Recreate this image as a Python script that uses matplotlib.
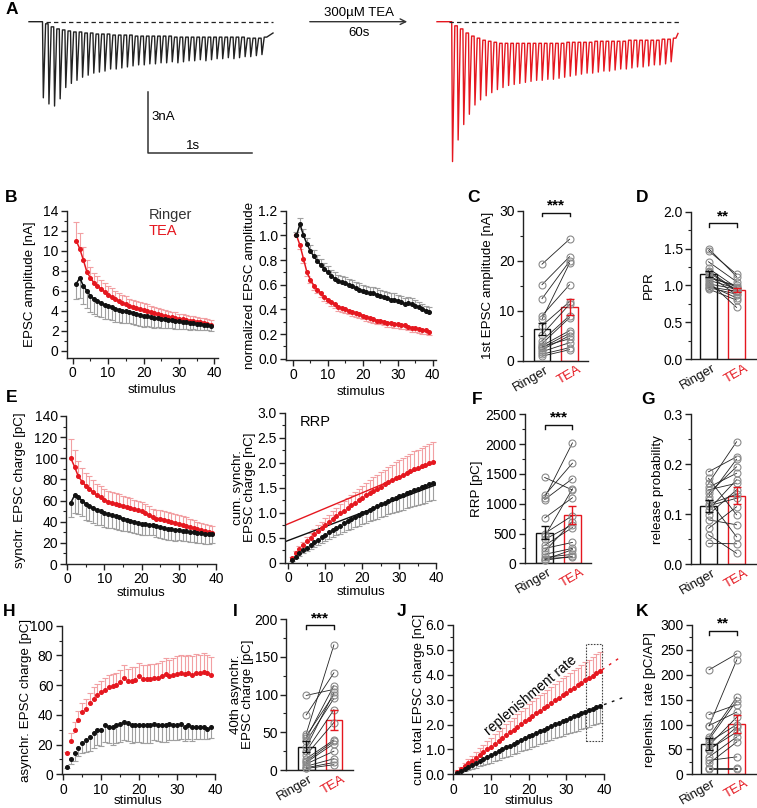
import numpy as np
import matplotlib
matplotlib.use("Agg")
import matplotlib.pyplot as plt
from matplotlib.ticker import MultipleLocator
from matplotlib.patches import Rectangle
import matplotlib.transforms as mtrans

plt.rcParams['font.family'] = ['Liberation Sans', 'DejaVu Sans']
plt.rcParams['font.size'] = 10

W, H = 757, 808
RED = '#e5171f'
RED_ERR = '#f2a0a3'
BLK = '#111111'
GRY_ERR = '#a0a0a0'
PT_GRY = '#8a8a8a'
TICK_FS = 10
LAB_FS = 9.6

# =====================================
# Data
# =====================================

# --- A: example traces, peak depth and recovery level per stimulus (nA)
black_peaks = [3.7, 4.0, 4.1, 3.75, 3.2, 3.0, 2.85, 2.7, 2.6, 2.5, 2.45, 2.4, 2.3, 2.3,
               2.25, 2.2, 2.15, 2.1, 2.1, 2.05, 2.05, 2.0, 2.0, 1.95, 2.0, 1.95, 1.9, 1.9,
               1.85, 1.9, 1.85, 1.8, 1.8, 1.75, 1.8, 1.75, 1.7, 1.7, 1.65, 1.6]
black_recs = [0.1, 0.25, 0.35, 0.4, 0.45, 0.5, 0.5, 0.55, 0.55, 0.6, 0.6, 0.6, 0.65, 0.65,
              0.65, 0.65, 0.7, 0.7, 0.7, 0.7, 0.7, 0.7, 0.7, 0.75, 0.75, 0.75, 0.75, 0.75,
              0.75, 0.75, 0.75, 0.75, 0.75, 0.75, 0.75, 0.75, 0.8, 0.8, 0.8, 0.75]
red_peaks = [6.8, 5.75, 5.0, 4.5, 4.05, 3.8, 3.6, 3.45, 3.3, 3.2, 3.1, 3.05, 3.0, 2.95,
             2.9, 2.85, 2.85, 2.8, 2.8, 2.75, 2.7, 2.65, 2.6, 2.55, 2.5, 2.5, 2.45, 2.4,
             2.4, 2.35, 2.3, 2.3, 2.25, 2.2, 2.2, 2.15, 2.1, 2.1, 2.05, 1.95]
red_recs = [0.2, 0.35, 0.55, 0.7, 0.8, 0.9, 0.95, 1.0, 1.05, 1.05, 1.05, 1.05, 1.05, 1.05,
            1.05, 1.05, 1.05, 1.05, 1.05, 1.05, 1.0, 1.0, 1.0, 1.0, 1.0, 0.95, 0.95, 0.95,
            0.95, 0.95, 0.95, 0.9, 0.9, 0.9, 0.9, 0.9, 0.9, 0.85, 0.85, 0.8]
black_tail = 0.55
red_tail = 0.57

stim = np.arange(1, 40)

# --- B: EPSC amplitude (nA) and normalized amplitude
amp_tea = [11.0, 10.2, 9.1, 7.9, 7.3, 6.8, 6.5, 6.2, 5.9, 5.6, 5.4, 5.2, 5.0, 4.8, 4.7,
           4.5, 4.4, 4.3, 4.2, 4.1, 4.0, 3.9, 3.8, 3.7, 3.6, 3.5, 3.4, 3.35, 3.3, 3.2,
           3.15, 3.1, 3.0, 2.95, 2.9, 2.85, 2.8, 2.7, 2.6]
amp_tea_err = [1.9, 1.6, 1.3, 1.2, 1.1, 1.0, 0.95, 0.9, 0.9, 0.85, 0.85, 0.8, 0.8, 0.75,
               0.75, 0.7, 0.7, 0.7, 0.65, 0.65, 0.65, 0.6, 0.6, 0.6, 0.6, 0.55, 0.55,
               0.55, 0.55, 0.5, 0.5, 0.5, 0.5, 0.5, 0.45, 0.45, 0.45, 0.45, 0.45]
amp_rin = [6.7, 7.3, 6.5, 6.0, 5.5, 5.2, 5.0, 4.8, 4.6, 4.5, 4.4, 4.2, 4.1, 4.0, 3.95,
           3.9, 3.8, 3.7, 3.6, 3.5, 3.45, 3.4, 3.3, 3.25, 3.2, 3.15, 3.1, 3.05, 3.0,
           2.95, 2.9, 2.85, 2.8, 2.75, 2.7, 2.65, 2.6, 2.55, 2.5]
amp_rin_err = [1.5, 2.0, 1.8, 1.7, 1.6, 1.5, 1.5, 1.4, 1.4, 1.3, 1.3, 1.3, 1.2, 1.2, 1.2,
               1.1, 1.1, 1.1, 1.1, 1.1, 1.0, 1.0, 1.0, 0.9, 0.9, 0.9, 0.8, 0.8, 0.8, 0.8,
               0.7, 0.7, 0.7, 0.6, 0.6, 0.6, 0.5, 0.5, 0.5]
norm_rin = [1.0, 1.09, 1.0, 0.93, 0.87, 0.83, 0.79, 0.76, 0.73, 0.70, 0.67, 0.65, 0.63,
            0.62, 0.61, 0.60, 0.59, 0.57, 0.56, 0.55, 0.54, 0.53, 0.53, 0.52, 0.51, 0.50,
            0.49, 0.48, 0.48, 0.47, 0.46, 0.44, 0.45, 0.44, 0.43, 0.42, 0.40, 0.39, 0.38]
norm_rin_err = [0.03, 0.05, 0.05, 0.05, 0.05, 0.05, 0.05, 0.05, 0.05, 0.05, 0.05, 0.05,
                0.05, 0.05, 0.05, 0.05, 0.05, 0.05, 0.05, 0.05, 0.05, 0.05, 0.05, 0.05,
                0.05, 0.05, 0.05, 0.05, 0.05, 0.05, 0.05, 0.05, 0.05, 0.05, 0.05, 0.04,
                0.04, 0.04, 0.04]
norm_tea = [1.0, 0.92, 0.81, 0.70, 0.64, 0.59, 0.56, 0.53, 0.50, 0.48, 0.46, 0.44, 0.42,
            0.41, 0.40, 0.39, 0.38, 0.37, 0.36, 0.35, 0.34, 0.33, 0.32, 0.31, 0.31, 0.30,
            0.29, 0.29, 0.28, 0.28, 0.27, 0.27, 0.26, 0.25, 0.25, 0.24, 0.23, 0.23, 0.22]
norm_tea_err = [0.0, 0.03, 0.03, 0.03, 0.03, 0.03, 0.03, 0.03, 0.03, 0.03, 0.03, 0.03,
                0.03, 0.03, 0.03, 0.03, 0.03, 0.03, 0.03, 0.03, 0.03, 0.03, 0.03, 0.03,
                0.03, 0.03, 0.03, 0.03, 0.03, 0.03, 0.03, 0.03, 0.03, 0.03, 0.03, 0.03,
                0.03, 0.03, 0.03]

# --- E: synchronous charge (pC) and cumulative synchronous charge (nC)
sync_tea = [100, 92, 83, 78, 74, 71, 68, 65, 63, 61, 59, 58, 57, 56, 55, 54, 53, 52, 51,
            50, 48, 46, 44, 43, 43, 42, 41, 40, 39, 38, 37, 36, 35, 34, 33, 32, 31, 30, 29]
sync_tea_err = [18, 16, 14, 13, 12, 12, 11, 11, 11, 10, 10, 10, 10, 10, 9, 9, 9, 9, 9, 9,
                9, 9, 8, 8, 8, 8, 8, 8, 8, 8, 8, 8, 8, 8, 7, 7, 7, 7, 7]
sync_rin = [58, 65, 63, 60, 57, 55, 53, 51, 50, 48, 47, 46, 45, 44, 43, 42, 41, 40, 39,
            38, 38, 37, 37, 36, 35, 34, 33, 33, 32, 32, 31, 31, 30, 30, 29, 29, 28, 28, 28]
sync_rin_err = [14, 17, 16, 15, 15, 14, 14, 14, 13, 13, 13, 12, 12, 12, 12, 11, 11, 11, 11,
                11, 11, 10, 10, 10, 10, 10, 10, 10, 10, 9, 9, 9, 9, 9, 9, 9, 9, 9, 8]
cum_tea = [0.10, 0.19, 0.28, 0.35, 0.43, 0.50, 0.57, 0.63, 0.69, 0.76, 0.81, 0.87, 0.93,
           0.99, 1.04, 1.09, 1.15, 1.20, 1.25, 1.30, 1.35, 1.39, 1.44, 1.48, 1.52, 1.57,
           1.61, 1.65, 1.69, 1.72, 1.76, 1.80, 1.83, 1.87, 1.90, 1.93, 1.96, 1.99, 2.02]
cum_tea_err = [0.02, 0.04, 0.06, 0.07, 0.08, 0.10, 0.11, 0.12, 0.13, 0.14, 0.15, 0.16,
               0.17, 0.18, 0.19, 0.20, 0.21, 0.22, 0.23, 0.24, 0.25, 0.26, 0.27, 0.28,
               0.29, 0.29, 0.30, 0.31, 0.32, 0.33, 0.33, 0.34, 0.35, 0.36, 0.36, 0.37,
               0.38, 0.38, 0.39]
cum_rin = [0.06, 0.12, 0.19, 0.25, 0.30, 0.36, 0.41, 0.46, 0.51, 0.56, 0.61, 0.65, 0.70,
           0.74, 0.79, 0.83, 0.87, 0.91, 0.95, 0.99, 1.02, 1.06, 1.10, 1.13, 1.17, 1.20,
           1.24, 1.27, 1.30, 1.33, 1.36, 1.39, 1.42, 1.45, 1.48, 1.51, 1.54, 1.57, 1.60]
cum_rin_err = [0.02, 0.03, 0.05, 0.06, 0.07, 0.08, 0.09, 0.10, 0.11, 0.12, 0.13, 0.14,
               0.15, 0.16, 0.17, 0.18, 0.19, 0.20, 0.21, 0.21, 0.22, 0.23, 0.24, 0.25,
               0.25, 0.26, 0.27, 0.28, 0.28, 0.29, 0.30, 0.30, 0.31, 0.32, 0.32, 0.33,
               0.34, 0.34, 0.35]
rrp_fit_x = [-0.9, 40]
rrp_fit_tea = [0.75, 2.02]
rrp_fit_rin = [0.42, 1.56]

# --- H: asynchronous charge (pC)
async_tea = [14, 22.5, 30, 36.5, 42, 44, 48, 51, 53.5, 55.5, 57, 58.5, 59.5, 60, 62, 65,
             62.5, 63, 63.5, 66, 64, 64, 64, 64.5, 64.5, 66, 67.5, 66, 66.5, 67.5, 68.5,
             67.5, 68, 67, 68.5, 68, 69, 68, 67]
async_tea_err = [1, 5, 5.5, 6, 6, 7, 7, 7.5, 7.5, 7.5, 8, 8, 8, 8, 8.5, 8.5, 8.5, 9, 9, 9,
                 9.5, 9.5, 10, 10, 10.5, 10.5, 11, 11, 11.5, 12, 12, 12, 12, 12.5, 12.5,
                 12.5, 12.5, 12, 12]
async_rin = [5, 10, 14, 18, 21, 23, 25, 28, 30, 30, 33, 32, 32, 33, 34, 35, 34.5, 33, 33.5,
             33.5, 33, 33, 33, 34, 33.5, 33, 33, 34, 33, 33, 34, 31.5, 33, 31.5, 32, 31.5,
             31.5, 30.5, 31.5]
async_rin_err = [1, 3, 5, 6, 7, 8, 9, 10, 10, 11, 11, 11, 12, 12, 12, 12, 12, 12, 12, 12,
                 12, 12, 12, 11, 11, 11, 11, 11, 10, 10, 10, 9, 9, 9, 8, 8, 8, 7, 7]

# --- J: cumulative total charge (nC)
tot_tea = [0.11, 0.22, 0.33, 0.44, 0.55, 0.66, 0.78, 0.89, 1.00, 1.11, 1.23, 1.34, 1.45,
           1.56, 1.68, 1.79, 1.90, 2.01, 2.13, 2.24, 2.35, 2.45, 2.56, 2.66, 2.76, 2.87,
           2.97, 3.08, 3.18, 3.28, 3.38, 3.48, 3.58, 3.68, 3.78, 3.87, 3.97, 4.07, 4.16]
tot_tea_err = [0.05, 0.08, 0.12, 0.16, 0.20, 0.24, 0.27, 0.30, 0.33, 0.36, 0.39, 0.41,
               0.43, 0.45, 0.47, 0.49, 0.51, 0.53, 0.55, 0.57, 0.58, 0.60, 0.61, 0.62,
               0.63, 0.64, 0.65, 0.66, 0.67, 0.68, 0.69, 0.70, 0.71, 0.72, 0.73, 0.74,
               0.75, 0.75, 0.76]
tot_rin = [0.06, 0.14, 0.22, 0.29, 0.37, 0.45, 0.53, 0.61, 0.69, 0.76, 0.84, 0.92, 1.00,
           1.08, 1.15, 1.23, 1.31, 1.38, 1.45, 1.52, 1.59, 1.66, 1.73, 1.80, 1.87, 1.94,
           2.01, 2.07, 2.14, 2.20, 2.27, 2.33, 2.39, 2.45, 2.52, 2.58, 2.64, 2.69, 2.75]
tot_rin_err = [0.03, 0.06, 0.09, 0.12, 0.15, 0.18, 0.21, 0.24, 0.27, 0.30, 0.32, 0.34,
               0.36, 0.38, 0.40, 0.42, 0.44, 0.46, 0.48, 0.50, 0.51, 0.52, 0.53, 0.54,
               0.55, 0.56, 0.57, 0.58, 0.59, 0.60, 0.61, 0.62, 0.63, 0.64, 0.65, 0.66,
               0.67, 0.68, 0.70]
ext_x = [39.5, 44.3]
ext_tea = [4.2, 4.7]
ext_x_rin = [40.0, 45.0]
ext_rin = [2.8, 3.08]

# --- bar panels: paired cells, mean, SEM
c_rin = [19.3, 15.2, 12.4, 9.0, 8.3, 7.0, 5.2, 4.0, 3.4, 3.0, 2.6, 2.2, 1.8, 1.3, 0.9, 2.8]
c_tea = [24.3, 20.8, 19.9, 15.2, 19.5, 11.8, 11.3, 9.0, 8.6, 6.0, 5.5, 5.0, 3.6, 2.6, 2.2, 4.4]
c_mean = [6.4, 10.7]
c_sem = [1.2, 1.6]

d_rin = [1.50, 1.47, 1.32, 1.23, 1.18, 1.14, 1.10, 1.07, 1.05, 1.02, 1.0, 0.98, 0.97, 0.95, 1.20, 1.12]
d_tea = [1.12, 1.15, 1.05, 0.97, 0.92, 0.87, 1.0, 0.96, 0.70, 0.95, 0.83, 0.92, 0.88, 0.80, 0.93, 0.98]
d_mean = [1.16, 0.94]
d_sem = [0.04, 0.025]

f_rin = [1440, 1140, 1100, 1070, 760, 500, 450, 400, 300, 250, 150, 100, 80, 60, 50, 200]
f_tea = [1230, 1680, 2020, 1420, 1100, 800, 1250, 650, 600, 350, 250, 150, 100, 230, 120, 700]
f_mean = [510, 817]
f_sem = [110, 150]

g_rin = [0.185, 0.172, 0.162, 0.154, 0.149, 0.142, 0.129, 0.117, 0.109, 0.099, 0.089,
         0.072, 0.059, 0.042, 0.135, 0.12]
g_tea = [0.215, 0.099, 0.245, 0.182, 0.162, 0.195, 0.055, 0.132, 0.169, 0.149, 0.079,
         0.115, 0.022, 0.041, 0.21, 0.14]
g_mean = [0.116, 0.137]
g_sem = [0.012, 0.017]

i_rin = [99, 73, 48, 45, 42, 38, 30, 25, 20, 15, 12, 10, 8, 5, 3, 2]
i_tea = [107, 129, 166, 100, 112, 95, 103, 80, 63, 40, 38, 35, 25, 15, 10, 7]
i_mean = [31, 66]
i_sem = [7, 13]

k_rin = [210, 120, 98, 97, 75, 70, 65, 58, 50, 35, 28, 22, 12, 10, 48]
k_tea = [242, 140, 125, 230, 155, 148, 100, 115, 85, 75, 35, 65, 12, 10, 95]
k_mean = [60, 101]
k_sem = [12, 19]


# =====================================
# Helpers
# =====================================

fig = plt.figure(figsize=(W / 100, H / 100), dpi=100)


def box(l, t, r, b):
    return fig.add_axes([l / W, 1 - b / H, (r - l) / W, (b - t) / H])


def style(ax, xlim, ylim, ymaj, ymin, xmaj=None, xmin=None):
    for s in ['top', 'right']:
        ax.spines[s].set_visible(False)
    for s in ['left', 'bottom']:
        ax.spines[s].set_linewidth(1.0)
        ax.spines[s].set_color('#222222')
    ax.set_xlim(*xlim)
    ax.set_ylim(*ylim)
    ax.yaxis.set_major_locator(MultipleLocator(ymaj))
    ax.yaxis.set_minor_locator(MultipleLocator(ymin))
    if xmaj:
        ax.xaxis.set_major_locator(MultipleLocator(xmaj))
        ax.xaxis.set_minor_locator(MultipleLocator(xmin))
    ax.tick_params(direction='out', length=4, width=1, labelsize=TICK_FS, pad=2,
                   color='#222222')
    ax.tick_params(which='minor', direction='out', length=2, width=0.8, color='#222222')


def ylab(ax, text, dist_px):
    ax.set_ylabel(text, fontsize=LAB_FS, va='center', ha='center', linespacing=1.05)
    w = ax.get_position().width * W
    ax.yaxis.set_label_coords(-dist_px / w, 0.5)


def xlab(ax, text, dist_px, xc=0.5):
    ax.set_xlabel(text, fontsize=LAB_FS, va='center')
    h = ax.get_position().height * H
    ax.xaxis.set_label_coords(xc, -dist_px / h)


def err_one(ax, y, e, up, color):
    y = np.asarray(y, float)
    e = np.asarray(e, float)
    tip = y + e if up else y - e
    ax.vlines(stim, y, tip, colors=color, lw=0.8, zorder=1)
    ax.plot(stim, tip, ls='none', marker='_', ms=4, mew=0.8, color=color, zorder=1)


def series(ax, y, color):
    ax.plot(stim, y, '-o', color=color, lw=1.1, ms=2.6, zorder=3)


def bar_panel(ax, rin, tea, mean, sem):
    ax.bar([1, 2], mean, width=0.6, color='white', edgecolor=[BLK, RED], lw=1.0, zorder=1)
    for a, b in zip(rin, tea):
        ax.plot([1, 2], [a, b], color='#222222', lw=0.6, zorder=2)
    ax.plot(np.ones(len(rin)), rin, 'o', mfc='none', mec=PT_GRY, ms=5, mew=0.8,
            zorder=3, clip_on=False)
    ax.plot(np.full(len(tea), 2), tea, 'o', mfc='none', mec=PT_GRY, ms=5, mew=0.8,
            zorder=3, clip_on=False)
    ax.errorbar(1, mean[0], yerr=sem[0], color=BLK, capsize=3, lw=1, capthick=1, zorder=4)
    ax.errorbar(2, mean[1], yerr=sem[1], color=RED, capsize=3, lw=1, capthick=1, zorder=4)
    ax.set_xticks([])
    trans = ax.get_xaxis_transform()
    for x, txt, col, dx in [(1, 'Ringer', BLK, 3), (2, 'TEA', RED, 8)]:
        off = mtrans.ScaledTranslation(dx / 100, -3 / 100, fig.dpi_scale_trans)
        ax.text(x, 0, txt, color=col, fontsize=9.5, rotation=30, ha='right', va='top',
                rotation_mode='anchor', transform=trans + off)


def bracket(ax, y, tick, stars):
    ax.plot([1, 1, 2, 2], [y - tick, y, y, y - tick], color='#111111', lw=1, clip_on=False)
    ax.text(1.5, y, stars, ha='center', va='bottom', fontsize=11, fontweight='bold',
            clip_on=False)


def letter(x, y, s):
    fig.text(x / W, 1 - y / H, s, fontsize=12.5, fontweight='bold', va='center', ha='left')


# =====================================
# A: example traces
# =====================================

axA = box(0, 0, 757, 170)
axA.axis('off')
px_s = 104.0
px_nA = 20.57
axA.set_xlim(0, W / px_s)
axA.set_ylim(-(170 - 21.7) / px_nA, 21.7 / px_nA)

isi = 0.0539


def trace(t_begin, t0, peaks, recs, tail, t_end):
    xs, ys = [t_begin, t0], [0.0, 0.0]
    prev = 0.0
    for i, (p, r) in enumerate(zip(peaks, recs)):
        ti = t0 + i * isi
        xs += [ti, ti + 0.008, ti + 0.03]
        ys += [-prev, -p, -r]
        prev = r
    xs += [t0 + len(peaks) * isi, t_end]
    ys += [-prev, -tail]
    return xs, ys


bx, by = trace(29 / px_s, 42.5 / px_s, black_peaks, black_recs, black_tail, 273 / px_s)
rx, ry = trace(437 / px_s, 451.7 / px_s, red_peaks, red_recs, red_tail, 678 / px_s)
axA.plot(bx, by, color='#222222', lw=1.0)
axA.plot(rx, ry, color=RED, lw=1.0)
axA.plot([46 / px_s, 273 / px_s], [0, 0], color='#222222', lw=0.9, ls=(0, (3.5, 2.5)))
axA.plot([449 / px_s, 681 / px_s], [0, 0], color='#222222', lw=0.9, ls=(0, (3.5, 2.5)))
# scale bar
axA.plot([148 / px_s, 148 / px_s, 252 / px_s], [-3.40, -6.40, -6.40], color='#333333', lw=1.1)
axA.text(151 / px_s, -4.63, '3nA', fontsize=9.5, va='center', ha='left')
axA.text(193 / px_s, -6.05, '1s', fontsize=9.5, va='center', ha='center')
# wash-in arrow
axA.annotate('', xy=(410 / px_s, 0), xytext=(307 / px_s, 0),
             arrowprops=dict(arrowstyle='->', lw=1.0, color='#333333'))
axA.text(359 / px_s, 0.44, '300µM TEA', fontsize=9.5, ha='center', va='center')
axA.text(359 / px_s, -0.56, '60s', fontsize=9.5, ha='center', va='center')

# =====================================
# B
# =====================================

axB1 = box(67, 210.7, 218, 358)
style(axB1, (-1.6, 41), (-0.7, 14), 2, 1, 10, 5)
err_one(axB1, amp_tea, amp_tea_err, True, RED_ERR)
err_one(axB1, amp_rin, amp_rin_err, False, GRY_ERR)
series(axB1, amp_tea, RED)
series(axB1, amp_rin, BLK)
axB1.text(0.543, 0.97, 'Ringer', transform=axB1.transAxes, color='#333333', va='center',
          fontsize=10.5)
axB1.text(0.543, 0.862, 'TEA', transform=axB1.transAxes, color=RED, va='center',
          fontsize=10.5)
ylab(axB1, 'EPSC amplitude [nA]', 37)
xlab(axB1, 'stimulus', 32, 0.56)

axB2 = box(286, 210.7, 436, 360)
style(axB2, (-2, 40.9), (-0.01, 1.2), 0.2, 0.1, 10, 5)
axB2.set_yticks([0, 0.2, 0.4, 0.6, 0.8, 1.0, 1.2])
axB2.set_yticklabels(['0.0', '0.2', '0.4', '0.6', '0.8', '1.0', '1.2'])
err_one(axB2, norm_rin, norm_rin_err, True, GRY_ERR)
err_one(axB2, norm_tea, norm_tea_err, False, RED_ERR)
series(axB2, norm_tea, RED)
series(axB2, norm_rin, BLK)
ylab(axB2, 'normalized EPSC amplitude', 36)
xlab(axB2, 'stimulus', 32)

# =====================================
# C, D
# =====================================

axC = box(523, 210.7, 588, 360.7)
style(axC, (0.31, 2.67), (0, 30), 10, 5)
bar_panel(axC, c_rin, c_tea, c_mean, c_sem)
bracket(axC, 29.6, 0.6, '***')
ylab(axC, '1st EPSC amplitude [nA]', 35)

axD = box(691, 211.7, 757, 359)
style(axD, (0.375, 2.73), (0, 2), 0.5, 0.25)
axD.set_yticks([0, 0.5, 1.0, 1.5, 2.0])
axD.set_yticklabels(['0.0', '0.5', '1.0', '1.5', '2.0'])
bar_panel(axD, d_rin, d_tea, d_mean, d_sem)
bracket(axD, 1.84, 0.05, '**')
ylab(axD, 'PPR', 42)

# =====================================
# E
# =====================================

axE1 = box(66, 416, 216, 564)
style(axE1, (-0.3, 40), (0, 140), 20, 10, 10, 5)
err_one(axE1, sync_tea, sync_tea_err, True, RED_ERR)
err_one(axE1, sync_rin, sync_rin_err, False, GRY_ERR)
series(axE1, sync_tea, RED)
series(axE1, sync_rin, BLK)
ylab(axE1, 'synchr. EPSC charge [pC]', 46)
xlab(axE1, 'stimulus', 29)

axE2 = box(285, 412.7, 436.3, 562.7)
style(axE2, (-0.9, 40), (0, 3), 0.5, 0.25, 10, 5)
axE2.set_yticks([0, 0.5, 1.0, 1.5, 2.0, 2.5, 3.0])
axE2.set_yticklabels(['0', '0.5', '1.0', '1.5', '2.0', '2.5', '3.0'])
err_one(axE2, cum_tea, cum_tea_err, True, RED_ERR)
err_one(axE2, cum_rin, cum_rin_err, False, GRY_ERR)
axE2.plot(rrp_fit_x, rrp_fit_tea, color=RED, lw=1.0, zorder=2)
axE2.plot(rrp_fit_x, rrp_fit_rin, color=BLK, lw=1.0, zorder=2)
axE2.plot(stim, cum_tea, 'o', color=RED, ms=2.6, zorder=3)
axE2.plot(stim, cum_rin, 'o', color=BLK, ms=2.6, zorder=3)
axE2.text(0.1, 0.938, 'RRP', transform=axE2.transAxes, va='center', fontsize=10.5)
ylab(axE2, 'cum. synchr.\nEPSC charge [nC]', 41)
xlab(axE2, 'stimulus', 29)

# =====================================
# F, G
# =====================================

axF = box(525, 414.3, 591, 563.3)
style(axF, (0.29, 2.67), (0, 2500), 500, 250)
bar_panel(axF, f_rin, f_tea, f_mean, f_sem)
bracket(axF, 2322, 70, '***')
ylab(axF, 'RRP [pC]', 48)

axG = box(691, 414.3, 757, 564.3)
style(axG, (0.375, 2.73), (0, 0.3), 0.1, 0.05)
axG.set_yticks([0, 0.1, 0.2, 0.3])
axG.set_yticklabels(['0.0', '0.1', '0.2', '0.3'])
bar_panel(axG, g_rin, g_tea, g_mean, g_sem)
ylab(axG, 'release probability', 33)

# =====================================
# H, I
# =====================================

axH = box(61.7, 625.7, 215, 774.3)
style(axH, (-0.4, 40), (0, 100), 20, 10, 10, 5)
err_one(axH, async_tea, async_tea_err, True, RED_ERR)
err_one(axH, async_rin, async_rin_err, False, GRY_ERR)
axH.plot(stim, async_tea, 'o', color=RED, ms=2.6, zorder=3)
axH.plot(stim, async_rin, 'o', color=BLK, ms=2.6, zorder=3)
ylab(axH, 'asynchr. EPSC charge [pC]', 36)
xlab(axH, 'stimulus', 27)

axI = box(286, 619.3, 353, 770)
style(axI, (0.27, 2.69), (0, 200), 50, 25)
bar_panel(axI, i_rin, i_tea, i_mean, i_sem)
bracket(axI, 192, 5, '***')
ylab(axI, '40th asynchr.\nEPSC charge [pC]', 44)

# =====================================
# J, K
# =====================================

axJ = box(453.3, 625, 604, 774.3)
style(axJ, (0, 40), (0, 6), 1, 0.5, 10, 5)
axJ.set_yticks([0, 1, 2, 3, 4, 5, 6])
axJ.set_yticklabels(['0.0', '1.0', '2.0', '3.0', '4.0', '5.0', '6.0'])
err_one(axJ, tot_tea, tot_tea_err, True, RED_ERR)
err_one(axJ, tot_rin, tot_rin_err, False, GRY_ERR)
axJ.plot(stim, tot_tea, 'o', color=RED, ms=2.6, zorder=3)
axJ.plot(stim, tot_rin, 'o', color=BLK, ms=2.6, zorder=3)
axJ.plot(ext_x, ext_tea, color=RED, lw=1.0, ls=(0, (2, 4)), clip_on=False)
axJ.plot(ext_x_rin, ext_rin, color=BLK, lw=1.0, ls=(0, (2, 4)), clip_on=False)
axJ.add_patch(Rectangle((35.1, 1.35), 4.5, 3.87, fill=False, ec='#444444', lw=0.8,
                        ls=(0, (1.5, 1.2)), clip_on=False))
axJ.text(20.6, 3.15, 'replenishment rate', rotation=40, rotation_mode='anchor',
         ha='center', va='center', fontsize=10)
ylab(axJ, 'cum. total EPSC charge [nC]', 34)
xlab(axJ, 'stimulus', 27)

axK = box(691.7, 625, 757, 774.3)
style(axK, (0.375, 2.73), (0, 300), 50, 25)
bar_panel(axK, k_rin, k_tea, k_mean, k_sem)
bracket(axK, 288.6, 8, '**')
ylab(axK, 'replenish. rate [pC/AP]', 42)

# =====================================
# Panel letters
# =====================================

letter(6, 9, 'A')
letter(5, 198, 'B')
letter(467, 197, 'C')
letter(636, 197, 'D')
letter(6, 398, 'E')
letter(472, 400, 'F')
letter(641, 400, 'G')
letter(3, 612, 'H')
letter(233, 612, 'I')
letter(397, 612, 'J')
letter(636, 612, 'K')

fig.savefig('out.png', dpi=100)
